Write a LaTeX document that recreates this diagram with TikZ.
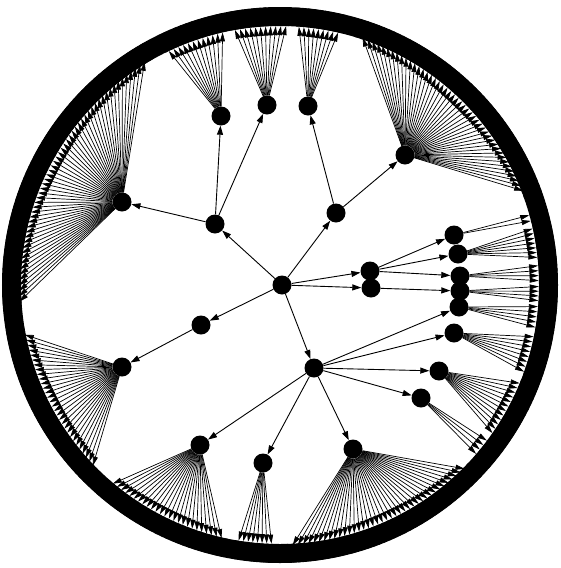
\documentclass[tikz,border=0pt]{standalone}
\usetikzlibrary{arrows.meta}
\begin{document}
\begin{tikzpicture}[x=1pt,y=1pt,
  inner/.style={circle,fill=black,minimum size=19pt,inner sep=0pt},
  leafnode/.style={circle,fill=black,minimum size=19pt,inner sep=0pt},
  ringband/.style={line width=19pt,draw=black},
  treeedge/.style={line width=0.9pt,-{Triangle[length=9pt,width=6pt]}},
  fanedge/.style={line width=0.7pt,-{Triangle[length=9pt,width=5pt]}}]
\fill[white] (0,0) rectangle (560,-568);
\useasboundingbox (0,0) rectangle (560,-568);
\coordinate (Cn) at (280,-285);
\draw[ringband] (Cn) circle[radius=268.5];
% internal nodes
\node[inner] (R) at (282,-285) {};
\node[inner] (A) at (215,-224) {};
\node[inner] (B) at (336,-213) {};
\node[inner] (C1) at (370,-271) {};
\node[inner] (C2) at (371,-288) {};
\node[inner] (D) at (201,-325) {};
\node[inner] (E) at (314,-368) {};
\node[inner] (F1) at (122,-202) {};
\node[inner] (F2) at (221,-116) {};
\node[inner] (F3) at (267,-105) {};
\node[inner] (F4) at (308,-106) {};
\node[inner] (F5) at (405,-155) {};
\node[inner] (F6) at (454,-235) {};
\node[inner] (F7) at (458,-254) {};
\node[inner] (F8) at (460,-276) {};
\node[inner] (F9) at (460,-291) {};
\node[inner] (F10) at (459,-307) {};
\node[inner] (F11) at (454,-333) {};
\node[inner] (F12) at (439,-371) {};
\node[inner] (F13) at (421,-398) {};
\node[inner] (F14) at (353,-449) {};
\node[inner] (F15) at (263,-463) {};
\node[inner] (F16) at (200,-445) {};
\node[inner] (F17) at (122,-367) {};
% tree edges
\foreach \u/\v in {R/A,R/B,R/C1,R/C2,R/D,R/E,A/F1,A/F2,A/F3,B/F4,B/F5,C1/F6,C1/F7,C1/F8,C2/F9,E/F10,E/F11,E/F12,E/F13,E/F14,E/F15,E/F16,D/F17}
  \draw[treeedge] (\u) -- (\v);
% leaves and fans
\foreach \p/\aa/\bb/\cnt in {F1/185/119.9/55,F2/115.9/102.3/12,F3/100.5/88.2/11,F4/86.2/76.7/9,F5/72.8/19.9/45,F6/15.6/14.2/2,F7/12.8/5.8/7,F8/4.4/0.8/4,F9/-0.2/-3.6/4,F10/-4.6/-9.6/5,F11/-11.2/-19.9/8,F12/-21.8/-35.4/12,F13/-36.8/-40.9/4,F14/-43.7/-88.4/38,F15/-91.6/-99.5/8,F16/-102.1/-131/25,F17/-135/-170/30}{
  \foreach \i in {1,...,\cnt}{
    \pgfmathsetmacro\ang{\aa+(\bb-\aa)*(\i-1)/(\cnt-1)}
    \node[leafnode] (L\p-\i) at ([shift={(\ang:268.5)}]Cn) {};
  }
  \foreach \i in {1,...,\cnt}{
    \draw[fanedge] (\p) -- (L\p-\i);
  }
}
\end{tikzpicture}
\end{document}
